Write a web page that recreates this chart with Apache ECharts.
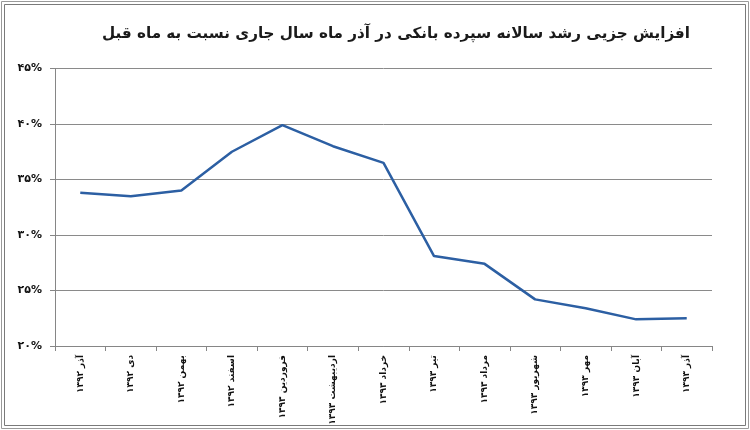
<!DOCTYPE html>
<html>
<head>
<meta charset="utf-8">
<script src="https://cdn.jsdelivr.net/npm/echarts@6/dist/echarts.min.js"></script>
<style>
html,body{margin:0;padding:0;background:#fff;overflow:hidden;width:750px;height:430px;}
#main{width:750px;height:430px;}
</style>
</head>
<body>
<div id="main"></div>
<script>
const titleText = 'افزایش جزیی رشد سالانه سپرده بانکی در آذر ماه سال جاری نسبت به ماه قبل';
const categories = ['آذر ۱۳۹۲','دی ۱۳۹۲','بهمن ۱۳۹۲','اسفند ۱۳۹۲','فروردین ۱۳۹۳','اردیبهشت ۱۳۹۳','خرداد ۱۳۹۳','تیر ۱۳۹۳','مرداد ۱۳۹۳','شهریور ۱۳۹۳','مهر ۱۳۹۳','آبان ۱۳۹۳','آذر ۱۳۹۳'];
const growth = [33.8, 33.5, 34.0, 37.5, 39.9, 38.0, 36.5, 28.1, 27.4, 24.2, 23.4, 22.4, 22.5];
const yMin = 20, yMax = 45, yStep = 5;

const faDigits = '۰۱۲۳۴۵۶۷۸۹';
function toFa(s){ return String(s).replace(/[0-9]/g, d => faDigits[+d]); }

const chart = echarts.init(document.getElementById('main'), null, {renderer:'canvas', width:750, height:430});
chart.setOption({
  backgroundColor:'#fff',
  animation:false,
  title:{
    text:titleText,
    right:55, top:22,
    textStyle:{fontFamily:'DejaVu Sans', fontSize:15.2, fontWeight:'bold', color:'#1a1a1a'}
  },
  graphic:[
    {type:'rect', shape:{x:1.5,y:1.5,width:747,height:427}, style:{fill:'none', stroke:'#9a9a9a', lineWidth:1}},
    {type:'rect', shape:{x:4.5,y:4.5,width:741,height:421}, style:{fill:'none', stroke:'#7a7a7a', lineWidth:1}}
  ],
  grid:{left:55, right:38, top:68.5, bottom:84},
  xAxis:{
    type:'category',
    data:categories,
    boundaryGap:true,
    axisLine:{lineStyle:{color:'#868686', width:1}},
    axisTick:{show:true, length:5, lineStyle:{color:'#868686'}},
    axisLabel:{rotate:90, margin:9, interval:0, fontFamily:'DejaVu Sans', fontSize:9, color:'#111', fontWeight:'bold'}
  },
  yAxis:{
    type:'value',
    min:yMin, max:yMax, interval:yStep,
    axisLine:{show:true, lineStyle:{color:'#868686', width:1}},
    axisTick:{show:true, length:5, lineStyle:{color:'#868686'}},
    splitLine:{lineStyle:{color:'#8a8a8a', width:1}},
    axisLabel:{margin:13, fontFamily:'DejaVu Sans', fontSize:11, fontWeight:'bold', color:'#111',
      formatter:v => toFa(v) + '%'}
  },
  series:[{
    type:'line',
    data:growth,
    symbol:'none',
    lineStyle:{color:'#2c5fa3', width:2.5}
  }]
});
</script>
</body>
</html>
